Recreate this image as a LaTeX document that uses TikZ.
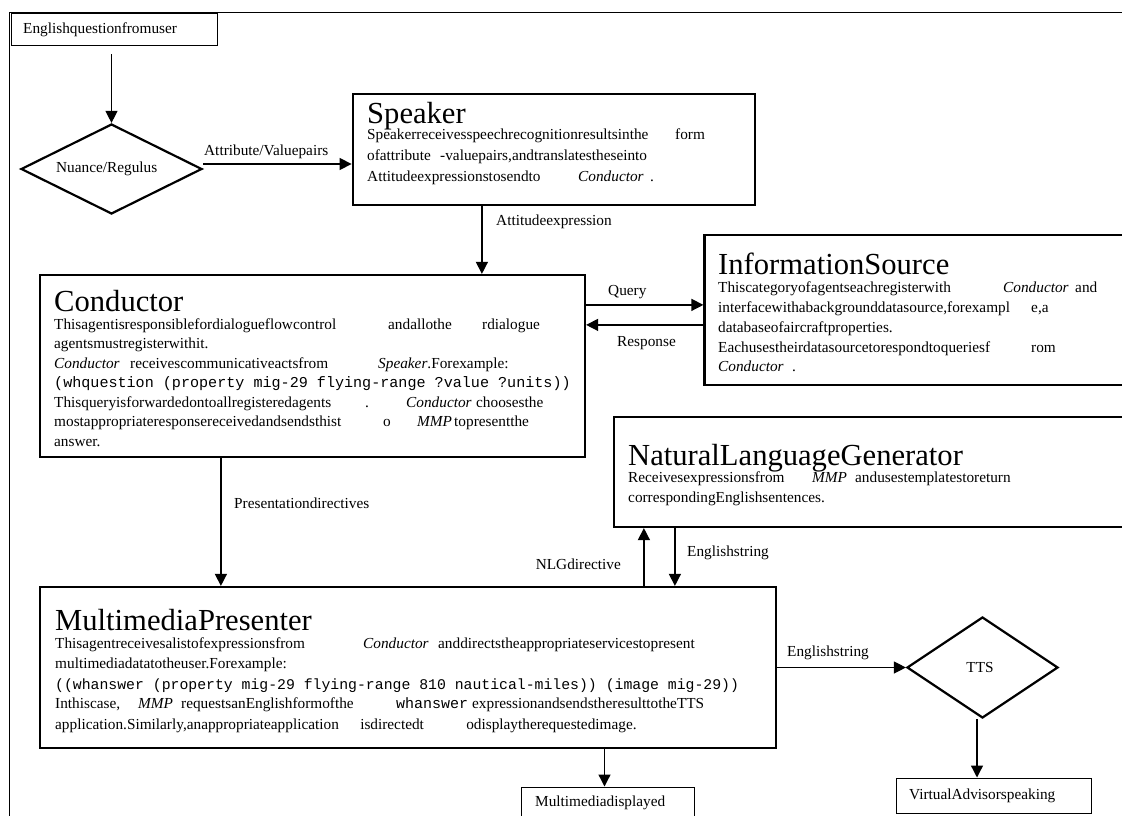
\documentclass[tikz,border=0pt]{standalone}
\usepackage{fontspec}
\setmainfont{Liberation Serif}
\setmonofont{Liberation Mono}
\usetikzlibrary{shapes.geometric,arrows.meta}
\newcommand{\segat}[2]{\makebox[#1pt][l]{#2}}
\newcommand{\bodyfnt}{\fontsize{15.3}{18}\selectfont}
\newcommand{\titlefnt}{\fontsize{30.6}{34}\selectfont}
\tikzset{
  bigbox/.style={draw, line width=2.2pt, rectangle, inner sep=0pt},
  smallbox/.style={draw, line width=1pt, rectangle, inner sep=0pt},
  dia/.style={draw, diamond, line width=2.2pt, inner sep=0pt},
  conn/.style={line width=1.3pt, -{Triangle[length=12pt,width=12pt]}},
  lbl/.style={inner sep=0pt, font=\bodyfnt},
  bt/.style={inner sep=0pt, anchor=base west, font=\bodyfnt},
  ttl/.style={inner sep=0pt, anchor=base west, font=\titlefnt},
}
\begin{document}
\begin{tikzpicture}[x=1pt,y=-1pt]
\useasboundingbox (0,0) rectangle (1122,816);
\fill[white] (0,0) rectangle (1122,816);
% outer frame
\draw[line width=1.4pt] (9.5,830) -- (9.5,12.3) -- (1135,12.3);

% boxes
\node[smallbox, minimum width=205.3pt, minimum height=32pt] (eq) at (114.35,30) {};
\node[lbl, anchor=west] (eqt) at (23,30) {Englishquestionfromuser};

\node[dia, minimum width=181pt, minimum height=90pt] (nr) at (111.5,169) {};
\node[lbl, anchor=west] (nrt) at (56,169) {Nuance/Regulus};

\node[bigbox, minimum width=402.3pt, minimum height=111pt] (spk) at (553.85,149.5) {};
\node[ttl] (spkt) at (367,123) {Speaker};
\node[bt] (s1) at (367,139) {\segat{308}{Speakerreceivesspeechrecognitionresultsinthe}form};
\node[bt] (s2) at (367,160) {\segat{73}{ofattribute}-valuepairs,andtranslatestheseinto};
\node[bt] (s3) at (367,181) {\segat{211}{Attitudeexpressionstosendto}\segat{72}{\textit{Conductor}}.};

\node[bigbox, minimum width=545pt, minimum height=182pt] (cond) at (312.5,366) {};
\node[ttl] (condt) at (54,311.5) {Conductor};
\node[bt] (c1) at (54,329) {\segat{334}{Thisagentisresponsiblefordialogueflowcontrol}\segat{94}{andallothe}rdialogue};
\node[bt] (c2) at (54,348.5) {agentsmustregisterwithit.};
\node[bt] (c3) at (54,368) {\segat{76}{\textit{Conductor}}\segat{248}{receivescommunicativeactsfrom}\textit{Speaker}.Forexample:};
\node[bt, font=\fontsize{15.1}{18}\selectfont\ttfamily] (c4) at (54,387.5) {(whquestion (property mig-29 flying-range ?value ?units))};
\node[bt] (c5) at (54,407) {\segat{311}{Thisqueryisforwardedontoallregisteredagents}\segat{41}{.}\segat{70}{\textit{Conductor}}choosesthe};
\node[bt] (c6) at (54,426.5) {\segat{329}{mostappropriateresponsereceivedandsendsthist}\segat{34}{o}\segat{37}{\textit{MMP}}topresentthe};
\node[bt] (c7) at (54,446) {answer.};

\node[bigbox, minimum width=425.5pt, minimum height=150pt] (info) at (917.25,310) {};
\node[ttl] (infot) at (718,274) {InformationSource};
\node[bt] (i1) at (718,292) {\segat{285}{Thiscategoryofagentseachregisterwith}\segat{72}{\textit{Conductor}}and};
\node[bt] (i2) at (718,312) {\segat{313}{interfacewithabackgrounddatasource,forexampl}e,a};
\node[bt] (i3) at (718,332) {databaseofaircraftproperties.};
\node[bt] (i4) at (718,352) {\segat{313}{Eachusestheirdatasourcetorespondtoqueriesf}rom};
\node[bt] (i5) at (718,371) {\segat{74}{\textit{Conductor}}.};

\node[bigbox, minimum width=516pt, minimum height=110pt] (nlg) at (872,472) {};
\node[ttl] (nlgt) at (628,465) {NaturalLanguageGenerator};
\node[bt] (n1) at (628,482) {\segat{184}{Receivesexpressionsfrom}\segat{43}{\textit{MMP}}andusestemplatestoreturn};
\node[bt] (n2) at (628,502) {correspondingEnglishsentences.};

\node[bigbox, minimum width=736pt, minimum height=161pt] (mmp) at (408,667.5) {};
\node[ttl] (mmpt) at (55,630.5) {MultimediaPresenter};
\node[bt] (m1) at (55,648) {\segat{308}{Thisagentreceivesalistofexpressionsfrom}\segat{75}{\textit{Conductor}}anddirectstheappropriateservicestopresent};
\node[bt] (m2) at (55,668) {multimediadatatotheuser.Forexample:};
\node[bt, font=\fontsize{14.8}{18}\selectfont\ttfamily] (m3) at (55,689) {((whanswer (property mig-29 flying-range 810 nautical-miles)) (image mig-29))};
\node[bt] (m4) at (55,708) {\segat{83}{Inthiscase,}\segat{43}{\textit{MMP}}\segat{215}{requestsanEnglishformofthe}\segat{76}{\fontsize{15}{18}\selectfont\texttt{whanswer}}expressionandsendstheresulttotheTTS};
\node[bt] (m5) at (55,729) {\segat{305}{application.Similarly,anappropriateapplication}\segat{106}{isdirectedt}odisplaytherequestedimage.};

\node[smallbox, minimum width=173pt, minimum height=35pt] (md) at (607.5,804.5) {};
\node[lbl, anchor=west] (mdt) at (535,803) {Multimediadisplayed};

\node[dia, minimum width=151pt, minimum height=101pt] (tts) at (982.5,667.5) {};
\node[lbl] (ttst) at (980,668) {TTS};

\node[smallbox, minimum width=195pt, minimum height=35pt] (va) at (993.5,795.5) {};
\node[lbl, anchor=west] (vat) at (909,796) {VirtualAdvisorspeaking};

% connectors
\draw[conn] ([yshift=-8pt]eq.south -| nr.north) -- (nr.north);
\draw[conn] ([yshift=5pt]nr.east) -- ([yshift=5pt]nr.east -| spk.west);
\node[lbl, anchor=west] (l1) at (204,152) {Attribute/Valuepairs};
\draw[conn] ([xshift=130.3pt]spk.south west) -- ([xshift=130.3pt]spk.south west |- cond.north);
\node[lbl, anchor=west] (l2) at (496,222) {Attitudeexpression};
\draw[conn] ([yshift=-31pt]cond.north east) -- ([yshift=-31pt]cond.north east -| info.west);
\node[lbl, anchor=west] (l3) at (608,292) {Query};
\draw[conn] ([yshift=-51pt]cond.north east -| info.west) -- ([yshift=-51pt]cond.north east);
\node[lbl, anchor=west] (l4) at (617,343) {Response};
\draw[conn] ([xshift=182pt]cond.south west) -- ([xshift=182pt]cond.south west |- mmp.north);
\node[lbl, anchor=west] (l5) at (234,503) {Presentationdirectives};
\draw[conn] ([xshift=31pt]nlg.south west |- mmp.north) -- ([xshift=31pt]nlg.south west);
\node[lbl, anchor=east] (l6) at (621,564) {NLGdirective};
\draw[conn] ([xshift=62pt]nlg.south west) -- ([xshift=62pt]nlg.south west |- mmp.north);
\node[lbl, anchor=west] (l7) at (687,553) {Englishstring};
\draw[conn] ([xshift=-3pt]md.north |- mmp.south) -- ([xshift=-3pt]md.north);
\draw[conn] (mmp.east |- tts.west) -- (tts.west);
\node[lbl, anchor=west] (l8) at (787,653) {Englishstring};
\draw[conn] ([xshift=-5.5pt]tts.south) -- ([xshift=-5.5pt]tts.south |- va.north);
\end{tikzpicture}
\end{document}
